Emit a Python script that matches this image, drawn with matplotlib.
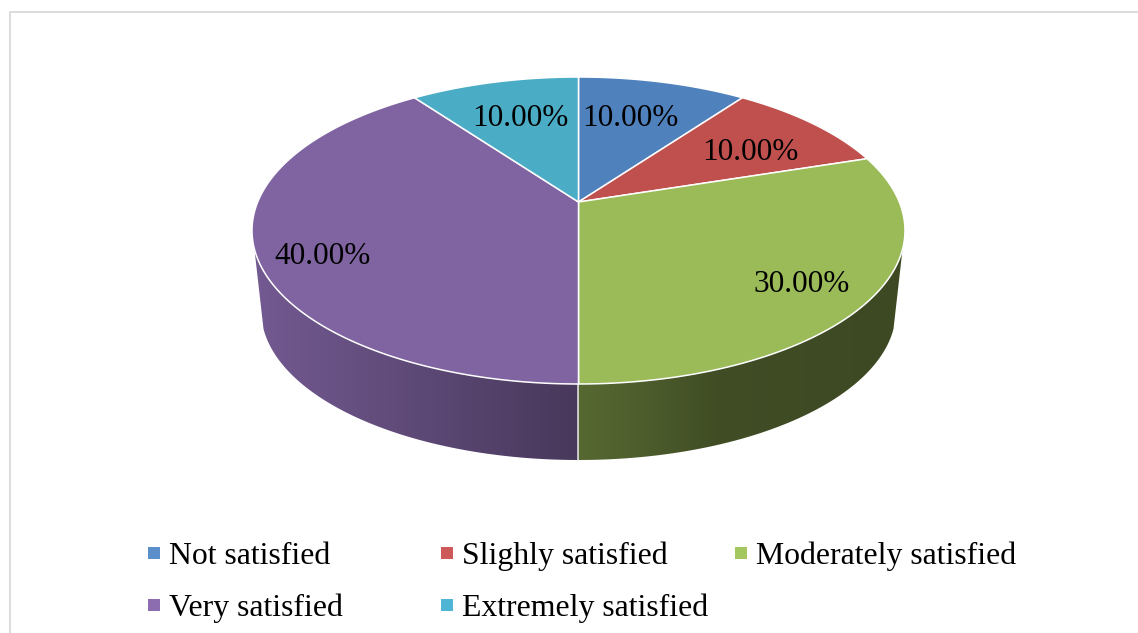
import numpy as np
import matplotlib
matplotlib.use("Agg")
import matplotlib.pyplot as plt
from matplotlib.patches import Polygon, Rectangle
from matplotlib.colors import to_rgb

# Survey responses
categories = ["Not satisfied", "Slighly satisfied", "Moderately satisfied",
              "Very satisfied", "Extremely satisfied"]
shares = [10.0, 10.0, 30.0, 40.0, 10.0]
top_colors = ["#4F81BD", "#C0504D", "#9BBB59", "#8064A2", "#4BACC6"]
legend_colors = ["#5B8FCC", "#CD5A58", "#A5C75F", "#8B6DB0", "#4FB5D4"]
label_centers = [(630, 118), (750, 153), (802, 285), (323, 256), (520, 118)]

FONT = "Liberation Serif"
W, H = 1138, 633
fig = plt.figure(figsize=(W / 100, H / 100), dpi=100, facecolor="white")
ax = fig.add_axes([0, 0, 1, 1])
ax.axis("off")

# Perspective projection of the unit disc onto the page
CX, CY = 578.5, 202.0
A, B, C = 148.2, 0.1857, 320.8
VANISH_Y = 3100.0
DEPTH = 76.0


def rim(theta):
    """Top-face point for an angle measured clockwise from twelve o'clock."""
    px, py = np.sin(theta), np.cos(theta)
    d = 1 + B * py
    return CX + C * px / d, CY - A * py / d


def lower_rim(theta):
    """The same rim point, dropped to the underside of the disc."""
    x, y = rim(theta)
    t = 1 - DEPTH / (VANISH_Y - (CY + A / (1 - B)))
    return CX + (x - CX) * t, VANISH_Y - (VANISH_Y - y) * t


edges = np.cumsum([0.0] + shares) / sum(shares) * 2 * np.pi
side_ramps = {
    2: ([578, 640, 720, 905], [0.56, 0.50, 0.41, 0.39]),
    3: ([253, 578], [0.90, 0.56]),
}

# Side wall: a horizontal shading ramp clipped to each visible wall segment
for idx, (xs, fs) in side_ramps.items():
    th = np.linspace(edges[idx], edges[idx + 1], 400)
    th = th[np.cos(th) < -0.30]
    x0, y0 = rim(th)
    x1, y1 = lower_rim(th)
    outline = np.column_stack([np.r_[x0, x1[::-1]], np.r_[y0, y1[::-1]]])
    left, right = outline[:, 0].min(), outline[:, 0].max()
    top, bottom = outline[:, 1].min(), outline[:, 1].max()
    grid = np.linspace(left, right, 512)
    ramp = np.interp(grid, xs, fs)[None, :, None] * np.array(to_rgb(top_colors[idx]))
    img = ax.imshow(ramp, extent=(left, right, bottom, top), aspect="auto",
                    interpolation="bilinear", zorder=2)
    img.set_clip_path(Polygon(outline, closed=True, transform=ax.transData))

ax.set_xlim(0, W)
ax.set_ylim(H, 0)

# Seam between the two visible wall segments
seam = edges[3]
sx0, sy0 = rim(seam)
sx1, sy1 = lower_rim(seam)
ax.plot([sx0, sx1], [sy0, sy1], color="#E8E8E8", lw=1.1, zorder=3)

# Top face
for start, stop, col in zip(edges[:-1], edges[1:], top_colors):
    th = np.linspace(start, stop, 200)
    x, y = rim(th)
    pts = np.column_stack([np.r_[CX, x], np.r_[CY, y]])
    ax.add_patch(Polygon(pts, closed=True, facecolor=col, edgecolor="white",
                         linewidth=1.1, joinstyle="round", zorder=4))

# Value labels
for (lx, ly), v in zip(label_centers, shares):
    ax.text(lx, ly, f"{v:.2f}%", family=FONT, fontsize=22.5, color="black",
            ha="center", va="center", zorder=5)

# Legend
col_x = [148, 441, 735]
row_y = [553, 605]
layout = [(0, 0), (1, 0), (2, 0), (0, 1), (1, 1)]
for name, col, (c, r) in zip(categories, legend_colors, layout):
    ax.add_patch(Rectangle((col_x[c], row_y[r] - 6), 12, 12, facecolor=col,
                           edgecolor="none", zorder=5))
    ax.text(col_x[c] + 21.5, row_y[r] - 0.5, name, family=FONT, fontsize=22.9,
            color="black", ha="left", va="center_baseline", zorder=5)

# Chart frame
ax.plot([10, 10, W], [H, 12, 12], color="#D9D9D9", lw=1.3, zorder=1,
        solid_joinstyle="miter")

fig.savefig("out.png", dpi=100, facecolor="white")
